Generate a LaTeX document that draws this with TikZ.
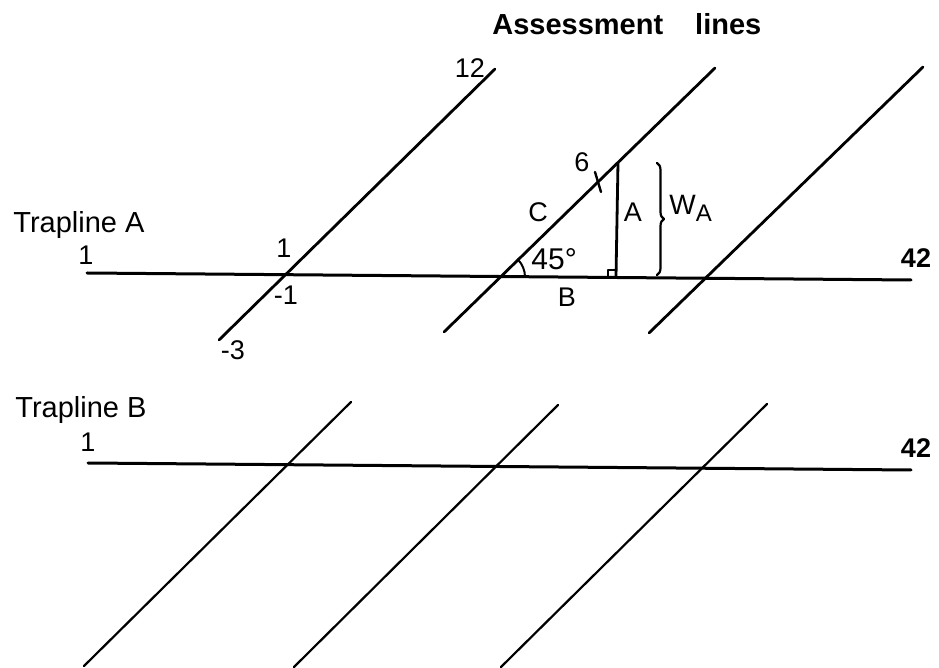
\documentclass[tikz,border=0pt]{standalone}
\usepackage{fontspec}
\setmainfont{Liberation Sans}
\usetikzlibrary{decorations.pathreplacing}

\begin{document}
\begin{tikzpicture}[x=0.5pt,y=-0.5pt,line cap=round,line join=round,
  trap/.style={line width=1.5pt},
  assess/.style={line width=1.4pt},
  thin assess/.style={line width=1.1pt},
  lbl/.style={anchor=base,inner sep=0pt,font=\fontsize{13.5}{15}\selectfont},
  head/.style={anchor=base west,inner sep=0pt,font=\fontsize{14.5}{17}\selectfont}]
\useasboundingbox (0,0) rectangle (939,668);
% trapline A and its assessment lines
\coordinate (a1) at (87,273);
\coordinate (a42) at (911,280);
\coordinate (lo1) at (219,340);
\coordinate (hi1) at (495,69);
\coordinate (lo2) at (444,332);
\coordinate (hi2) at (715,68);
\coordinate (lo3) at (649,333);
\coordinate (hi3) at (923,67);
\coordinate (X2) at (500,277);
\coordinate (top) at (618,163);
\coordinate (foot) at (616,277);
\draw[trap] (a1) -- (a42);
\draw[assess] (lo1) -- (hi1);
\draw[assess] (lo2) -- (hi2);
\draw[assess] (lo3) -- (hi3);
% triangle A B C
\draw[line width=1.4pt] (top) -- (foot);
\draw[line width=1pt] (foot) ++(-8,0) -- ++(0,-7) -- ++(8,0);
\draw[line width=1pt] (X2) ++(25,0) arc[start angle=0,end angle=45,radius=12.5pt];
\coordinate (t1) at (595,172);
\coordinate (t2) at (601,192);
\draw[line width=1.2pt] (t1) -- (t2);
\coordinate (br1) at (657,163);
\coordinate (br2) at (657,275);
\draw[line width=1.1pt,decorate,decoration={brace,amplitude=3.5pt}] (br1) -- (br2);
% trapline B and its assessment lines
\coordinate (b1) at (88,463);
\coordinate (b42) at (911,470);
\coordinate (lo4) at (84,666);
\coordinate (hi4) at (351,402);
\coordinate (lo5) at (294,667);
\coordinate (hi5) at (558,405);
\coordinate (lo6) at (501,667);
\coordinate (hi6) at (767,404);
\draw[trap] (b1) -- (b42);
\draw[thin assess] (lo4) -- (hi4);
\draw[thin assess] (lo5) -- (hi5);
\draw[thin assess] (lo6) -- (hi6);
% labels
\node[head,font=\fontsize{14.5}{17}\selectfont\bfseries] (title) at (492,35) {Assessment\hspace{16pt}lines};
\node[head] (tA) at (13,233) {Trapline A};
\node[head] (tB) at (15,418) {Trapline B};
\node[lbl] (nA1) at (86,265) {1};
\node[lbl,font=\fontsize{13.5}{15}\selectfont\bfseries] (nA42) at (916,268) {42};
\node[lbl] (nB1) at (88,452) {1};
\node[lbl,font=\fontsize{13.5}{15}\selectfont\bfseries] (nB42) at (916,458) {42};
\node[lbl] (n1) at (284,258) {1};
\node[lbl] (nm1) at (286,305) {-1};
\node[lbl] (nm3) at (233,360) {-3};
\node[lbl] (n12) at (470,78) {12};
\node[lbl] (n6) at (582,172) {6};
\node[lbl] (sC) at (538,222) {C};
\node[lbl,anchor=base west,font=\fontsize{15}{17}\selectfont] (ang) at (531,270) {45°};
\node[lbl] (sA) at (633,222) {A};
\node[lbl] (sB) at (567,307) {B};
\node[lbl,anchor=base west,font=\fontsize{14}{16}\selectfont] (wA) at (669,215) {W\raisebox{-0.45ex}{\fontsize{12}{13}\selectfont A}};
\end{tikzpicture}
\end{document}
